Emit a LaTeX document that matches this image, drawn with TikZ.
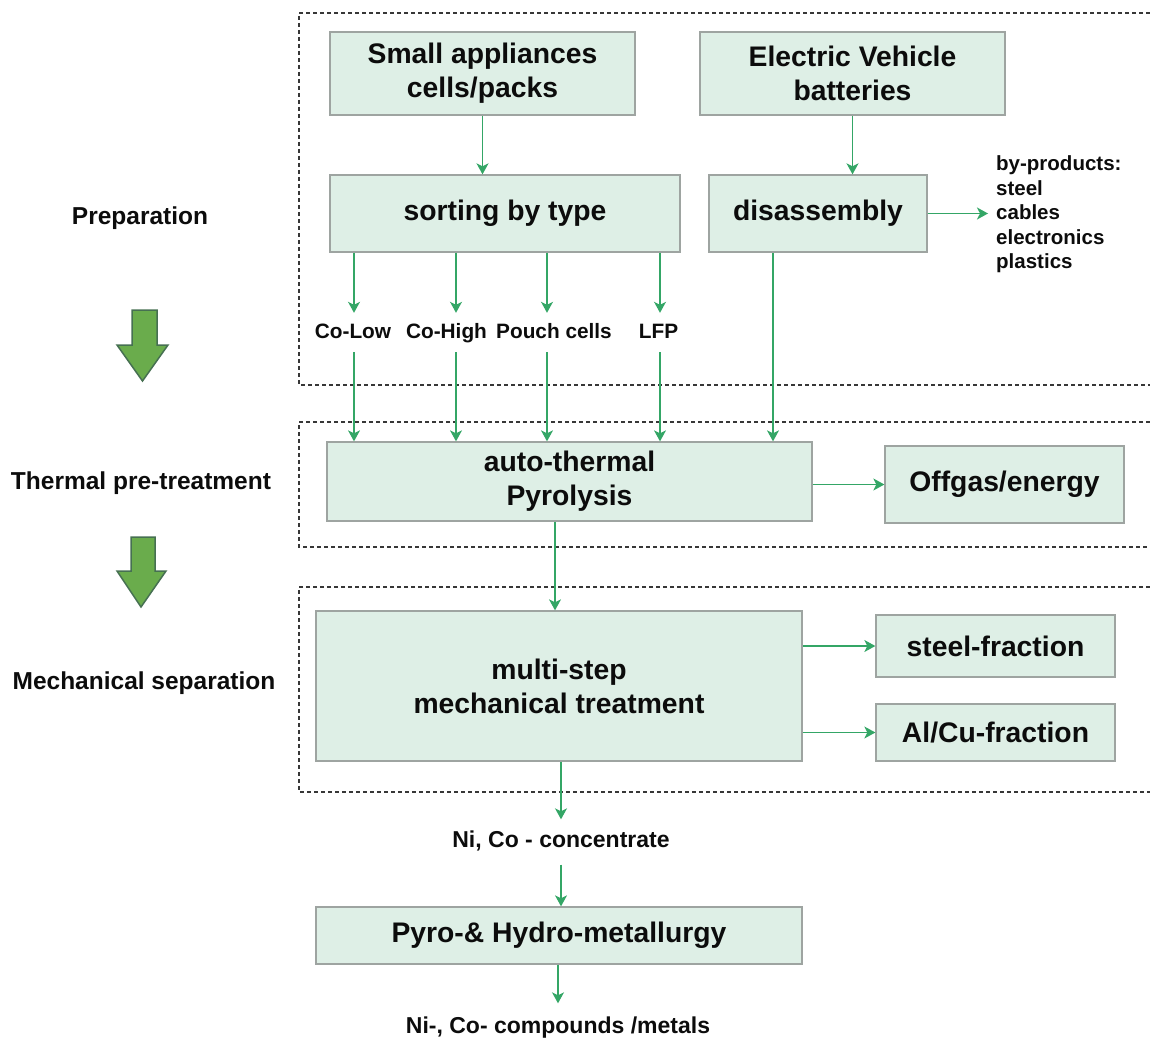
\documentclass[tikz,border=0pt]{standalone}
\usepackage{fontspec}
\setmainfont{Liberation Sans}
\usetikzlibrary{arrows.meta}

\definecolor{boxfill}{RGB}{222,239,230}
\definecolor{boxline}{RGB}{158,164,161}
\definecolor{flowgreen}{RGB}{52,166,102}
\definecolor{framegray}{RGB}{55,55,55}
\definecolor{arrowfill}{RGB}{106,172,76}
\definecolor{arrowline}{RGB}{70,112,82}
\definecolor{ink}{RGB}{12,12,12}

\begin{document}
\begin{tikzpicture}[x=1pt,y=1pt,yscale=-1,
	stage/.style={draw=boxline,fill=boxfill,line width=1.3pt,align=center,inner sep=0pt,text=ink,
		font=\bfseries\fontsize{28.3}{34}\selectfont},
	phase/.style={text=ink,font=\bfseries\fontsize{24.5}{29}\selectfont},
	kind/.style={text=ink,font=\bfseries\fontsize{20.8}{24.5}\selectfont,text height=15pt,text depth=4pt,inner xsep=0pt,inner ysep=10pt},
	yield/.style={text=ink,font=\bfseries\fontsize{23}{27}\selectfont,text height=16pt,text depth=5pt,inner xsep=0pt},
	flow/.style={draw=flowgreen,line width=1.4pt,-{Stealth[length=11pt,width=12pt,inset=3pt]}},
	frame/.style={draw=framegray,line width=1.3pt,dash pattern=on 4pt off 3pt},
	bigarrow/.style={draw=arrowline,fill=arrowfill,line width=1.5pt,line join=miter}]
	\useasboundingbox (0,0) rectangle (1150,1038);
	
	%Shape: dashed frames
	\draw[frame] (1150,13) -- (299,13) -- (299,385) -- (1150,385);
	\draw[frame] (1150,422) -- (299,422) -- (299,547) -- (1150,547);
	\draw[frame] (1150,587) -- (299,587) -- (299,792) -- (1150,792);
	
	%Shape: big arrows
	\draw[bigarrow] (132,310) -- (157,310) -- (157,345) -- (168,345) -- (142.5,381) -- (117,345) -- (132,345) -- cycle;
	\draw[bigarrow] (131,537) -- (155,537) -- (155,571) -- (166,571) -- (141,607) -- (117,571) -- (131,571) -- cycle;
	
	% Text Node
	\node[phase] (prep) at (140,218) {Preparation};
	\node[phase] (thermal) at (141,483) {Thermal pre-treatment};
	\node[phase] (mechsep) at (144,683) {Mechanical separation};
	
	% boxes
	\node[stage,minimum width=305,minimum height=83] (small) at (482.5,73.5) {Small appliances\\cells/packs};
	\node[stage,minimum width=305,minimum height=83] (ev) at (852.5,73.5) {Electric Vehicle\\batteries};
	\node[stage,minimum width=350,minimum height=77] (sort) at (505,213.5) {sorting by type};
	\node[stage,minimum width=218,minimum height=77] (disasm) at (818,213.5) {disassembly};
	\node[stage,minimum width=485,minimum height=79] (pyro) at (569.5,481.5) {auto-thermal\\Pyrolysis};
	\node[stage,minimum width=239,minimum height=77] (offgas) at (1004.5,484.5) {Offgas/energy};
	\node[stage,minimum width=486,minimum height=150] (mech) at (559,686) {multi-step\\mechanical treatment};
	\node[stage,minimum width=239,minimum height=62] (steel) at (995.5,646) {steel-fraction};
	\node[stage,minimum width=239,minimum height=57] (alcu) at (995.5,732.5) {Al/Cu-fraction};
	\node[stage,minimum width=486,minimum height=57] (hydro) at (559,935.5) {Pyro-\& Hydro-metallurgy};
	
	% Text Node
	\node[anchor=west,align=left,text=ink,inner xsep=8pt,inner ysep=0pt,
		font=\bfseries\fontsize{20.5}{24.5}\selectfont] (byprod) at (988,214.5)
		{by-products:\\steel\\cables\\electronics\\plastics};
	\node[kind] (colow) at (353,332.5) {Co-Low};
	\node[kind] (cohigh) at (446.5,332.5) {Co-High};
	\node[kind] (pouch) at (554,332.5) {Pouch cells};
	\node[kind] (lfp) at (658.5,332.5) {LFP};
	\node[yield,inner ysep=12pt] (conc) at (561,842) {Ni, Co - concentrate};
	\node[yield,inner ysep=14pt] (final) at (558,1028) {Ni-, Co- compounds /metals};
	
	% arrow columns
	\coordinate (colowcol) at (354,0);
	\coordinate (cohighcol) at (456,0);
	\coordinate (pouchcol) at (547,0);
	\coordinate (lfpcol) at (660,0);
	\coordinate (disasmcol) at (773,0);
	\coordinate (pyrocol) at (555,0);
	
	% connectors
	\draw[flow] (small.south) -- (small |- sort.north);
	\draw[flow] (ev.south) -- (ev |- disasm.north);
	\draw[flow] (disasm.east) -- (disasm.east -| byprod.west);
	\foreach \k in {colow,cohigh,pouch,lfp}{
		\draw[flow] (\k col |- sort.south) -- (\k col |- \k.north);
		\draw[flow] (\k col |- \k.south) -- (\k col |- pyro.north);
	}
	\draw[flow] (disasmcol |- disasm.south) -- (disasmcol |- pyro.north);
	\draw[flow] (pyro.east |- offgas.west) -- (offgas.west);
	\draw[flow] (pyrocol |- pyro.south) -- (pyrocol |- mech.north);
	\draw[flow] (mech.east |- steel.west) -- (steel.west);
	\draw[flow] (mech.east |- alcu.west) -- (alcu.west);
	\draw[flow] (mech.south -| conc) -- (conc.north);
	\draw[flow] (conc.south) -- (conc.south |- hydro.north);
	\draw[flow] (hydro.south -| final) -- (final.north);
\end{tikzpicture}
\end{document}
